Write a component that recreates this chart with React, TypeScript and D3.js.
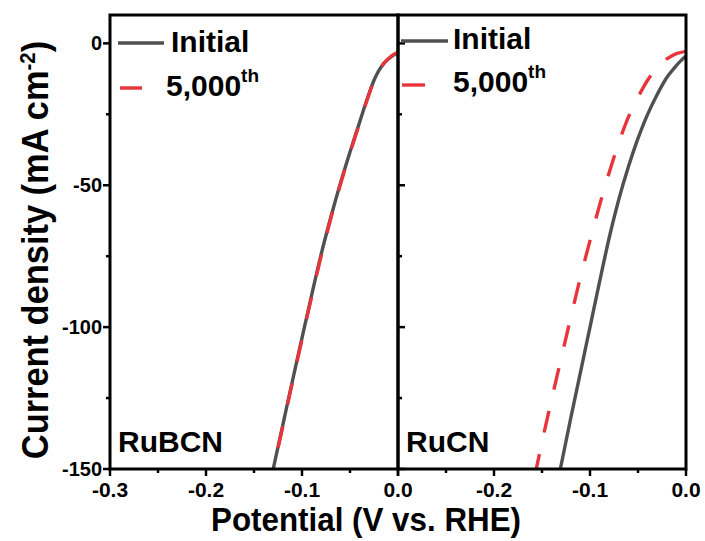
import React from "react";
import * as d3 from "d3";

const rubcnInitialV = [0, -0.005, -0.01, -0.015, -0.02, -0.025, -0.03, -0.035, -0.04, -0.045, -0.05, -0.06, -0.07, -0.08, -0.09, -0.1, -0.11, -0.12, -0.13, -0.133];
const rubcnInitialJ = [-3.2, -4.2, -5.5, -7.2, -9.6, -13, -17.5, -22.5, -27.8, -33, -38.3, -49.3, -61.3, -74.3, -88.8, -103.8, -119, -134.5, -150, -155];
const rubcn5000V = [0, -0.005, -0.01, -0.015, -0.02, -0.025, -0.03, -0.035, -0.04, -0.045, -0.05, -0.06, -0.07, -0.08, -0.09, -0.1, -0.11, -0.12, -0.13, -0.133];
const rubcn5000J = [-3.0, -4.0, -5.4, -7.1, -9.7, -13.2, -17.8, -22.8, -28.1, -33.3, -38.6, -49.7, -61.7, -74.8, -89.3, -104.3, -119.5, -135, -150.5, -155.5];

const rucnInitialV = [0, -0.005, -0.01, -0.02, -0.03, -0.04, -0.05, -0.06, -0.07, -0.08, -0.09, -0.1, -0.11, -0.12, -0.13, -0.134];
const rucnInitialJ = [-4.5, -6, -7.8, -12, -18, -25, -33.5, -43.5, -55, -68.5, -84, -100, -116, -132, -148.5, -155];
const rucn5000V = [0, -0.01, -0.02, -0.03, -0.04, -0.05, -0.06, -0.07, -0.08, -0.09, -0.1, -0.11, -0.12, -0.13, -0.14, -0.15, -0.156, -0.16];
const rucn5000J = [-2.8, -3.6, -5.5, -8.5, -13, -19, -26, -35, -45.5, -57, -69.5, -82.5, -96.5, -111, -125.5, -140.5, -150, -156];

const xMajorTicks = [-0.3, -0.2, -0.1, 0.0];
const xMinorTicks = [-0.25, -0.15, -0.05];
const yMajorTicks = [0, -50, -100, -150];
const yMinorTicks = [-25, -75, -125];
const panelNames = ["RuBCN", "RuCN"];
const legendLabels = ["Initial", "5,000"];

const GRAY = "#505050";
const RED = "#e8353c";
const FONT = "'Liberation Sans', Arial, Helvetica, sans-serif";

export default function App() {
  const W = 705, H = 541;
  const top = 15, bottom = 469;
  const panels = [
    { x0: 110, x1: 398, a: [rubcnInitialV, rubcnInitialJ], b: [rubcn5000V, rubcn5000J], name: panelNames[0], leg: { lx0: 118, lx1: 164, ly: 43, tx: 171, tb: 52, rx0: 120, rx1: 142, ry: 88, t2x: 166, t2b: 96 } },
    { x0: 398, x1: 686, a: [rucnInitialV, rucnInitialJ], b: [rucn5000V, rucn5000J], name: panelNames[1], leg: { lx0: 401, lx1: 448, ly: 41, tx: 453, tb: 49, rx0: 402, rx1: 425, ry: 85, t2x: 453, t2b: 92 } },
  ];
  const y = d3.scaleLinear().domain([-150, 10]).range([bottom, top]);

  return (
    <svg width={W} height={H} style={{ position: "absolute", left: 0, top: 0 }} fontFamily={FONT} fontWeight="bold">
      <defs>
        {panels.map((p, i) => (
          <clipPath id={`clip${i}`} key={i}>
            <rect x={p.x0} y={top} width={p.x1 - p.x0} height={bottom - top} />
          </clipPath>
        ))}
      </defs>
      {panels.map((p, i) => {
        const x = d3.scaleLinear().domain([-0.3, 0]).range([p.x0, p.x1]);
        const mk = (V: number[], J: number[]) =>
          d3.line<number>().x((v) => x(v)).y((_, k) => y(J[k])).curve(d3.curveCatmullRom.alpha(0.5))(V) || "";
        const inward = i === 1;
        return (
          <g key={i}>
            <g clipPath={`url(#clip${i})`}>
              <path d={mk(p.a[0], p.a[1])} fill="none" stroke={GRAY} strokeWidth={3.4} />
              <path d={mk(p.b[0], p.b[1])} fill="none" stroke={RED} strokeWidth={3.4} strokeDasharray="22,22" />
            </g>
            {yMajorTicks.map((t) => (
              <line key={"ym" + t} x1={p.x0} x2={inward ? p.x0 + 7 : p.x0 - 7} y1={y(t)} y2={y(t)} stroke="#000" strokeWidth={2.5} />
            ))}
            {yMinorTicks.map((t) => (
              <line key={"yn" + t} x1={p.x0} x2={inward ? p.x0 + 4 : p.x0 - 4} y1={y(t)} y2={y(t)} stroke="#000" strokeWidth={2.5} />
            ))}
            {!inward &&
              yMajorTicks.map((t) => (
                <text key={"yl" + t} x={p.x0 - 8} y={y(t) + 7} textAnchor="end" fontSize={20}>
                  {t}
                </text>
              ))}
            {xMajorTicks.map((t) => (
              <line key={"xm" + t} x1={x(t)} x2={x(t)} y1={bottom} y2={bottom + 7} stroke="#000" strokeWidth={2.5} />
            ))}
            {xMinorTicks.map((t) => (
              <line key={"xn" + t} x1={x(t)} x2={x(t)} y1={bottom} y2={bottom + 4} stroke="#000" strokeWidth={2.5} />
            ))}
            {xMajorTicks
              .filter((t) => !(inward && t === -0.3))
              .map((t) => (
                <text key={"xl" + t} x={x(t)} y={bottom + 28} textAnchor="middle" fontSize={21}>
                  {d3.format(".1f")(t).replace("−", "-")}
                </text>
              ))}
            <rect x={p.x0} y={top} width={p.x1 - p.x0} height={bottom - top} fill="none" stroke="#000" strokeWidth={3} />
            <text x={p.x0 + 8} y={452} fontSize={30}>
              {p.name}
            </text>
            <line x1={p.leg.lx0} x2={p.leg.lx1} y1={p.leg.ly} y2={p.leg.ly} stroke={GRAY} strokeWidth={3.4} />
            <text x={p.leg.tx} y={p.leg.tb} fontSize={30}>
              {legendLabels[0]}
            </text>
            <line x1={p.leg.rx0} x2={p.leg.rx1} y1={p.leg.ry} y2={p.leg.ry} stroke={RED} strokeWidth={3.4} />
            <text x={p.leg.t2x} y={p.leg.t2b} fontSize={30}>
              {legendLabels[1]}
              <tspan dy={-14} fontSize={19}>th</tspan>
            </text>
          </g>
        );
      })}
      <text transform="translate(366,531) scale(0.95,1)" textAnchor="middle" fontSize={33}>
        Potential (V vs. RHE)
      </text>
      <text transform="translate(48,250) rotate(-90) scale(0.93,1)" textAnchor="middle" fontSize={37}>
        Current density (mA cm
        <tspan dy={-13} fontSize={22}>-2</tspan>
        <tspan dy={13}>)</tspan>
      </text>
    </svg>
  );
}
